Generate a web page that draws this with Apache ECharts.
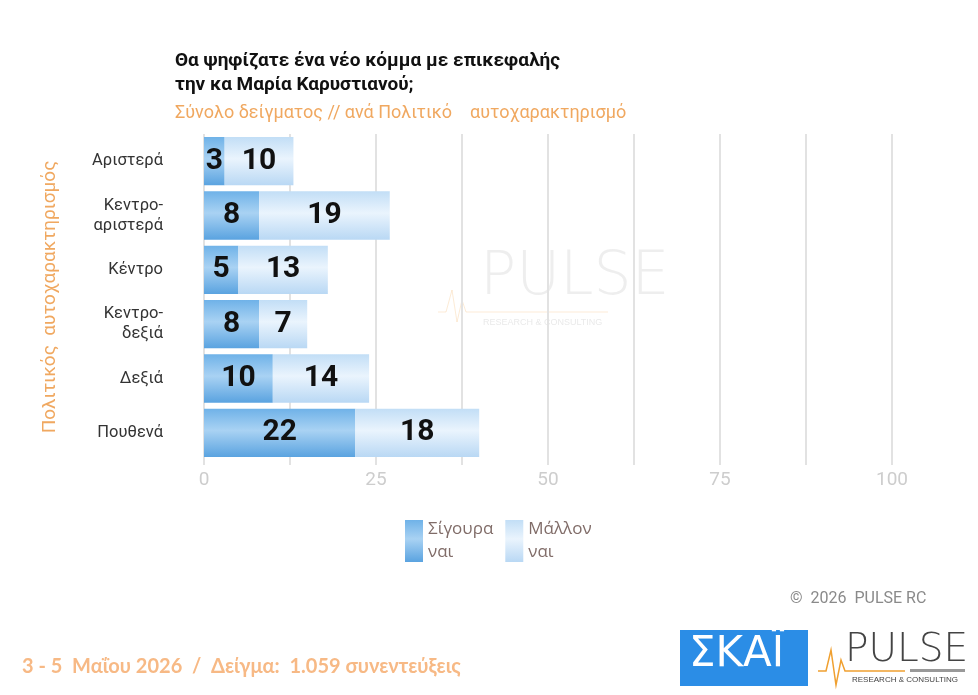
<!DOCTYPE html>
<html><head><meta charset="utf-8">
<script src="https://cdn.jsdelivr.net/npm/echarts@6/dist/echarts.min.js"></script>
<style>html,body{margin:0;padding:0;background:#fff}#c{width:978px;height:695px}</style>
</head><body><div id="c"></div>
<script>
const categories = ['Αριστερά', 'Κεντρο-\nαριστερά', 'Κέντρο', 'Κεντρο-\nδεξιά', 'Δεξιά', 'Πουθενά'];
const seriesNames = ['Σίγουρα ναι', 'Μάλλον ναι'];
const sureYes = [3, 8, 5, 8, 10, 22];
const ratherYes = [10, 19, 13, 7, 14, 18];
const xTicks = [0, 25, 50, 75, 100];

const chart = echarts.init(document.getElementById('c'), null, {renderer: 'canvas'});
const grad = (a, b, c) => new echarts.graphic.LinearGradient(0, 0, 0, 1, [
  {offset: 0, color: a}, {offset: 0.45, color: b}, {offset: 1, color: c}]);
const darkGrad = grad('#6fb2e8', '#a9d2f3', '#5aa3e0');
const lightGrad = grad('#c2def6', '#eaf4fd', '#b9d8f4');
const orange = '#f0a860';
const font = 'Roboto';

chart.setOption({
  animation: false,
  textStyle: {fontFamily: font},
  title: [{
    text: 'Θα ψηφίζατε ένα νέο κόμμα με επικεφαλής\nτην κα Μαρία Καρυστιανού;',
    left: 170, top: 44,
    textStyle: {fontSize: 19, fontWeight: 'bold', color: '#111', lineHeight: 24, fontFamily: font}
  }, {
    text: 'Σύνολο δείγματος // ανά Πολιτικό    αυτοχαρακτηρισμό',
    left: 170, top: 99,
    textStyle: {fontSize: 18, fontWeight: 'normal', color: orange, fontFamily: font}
  }],
  legend: {
    left: 400, top: 513,
    itemWidth: 18, itemHeight: 42, itemGap: 12,
    icon: 'rect',
    data: seriesNames,
    formatter: n => n.replace(' ', '\n'),
    textStyle: {fontSize: 17, color: '#806c68', lineHeight: 23, fontFamily: 'Open Sans'}
  },
  grid: {left: 204, right: 86, top: 134, bottom: 235},
  xAxis: {
    type: 'value', min: 0, max: 100, interval: 12.5,
    axisLine: {show: false},
    axisTick: {show: true, length: 5, lineStyle: {color: '#e2e2e2', width: 2}},
    splitLine: {show: true, lineStyle: {color: '#e2e2e2', width: 2}},
    axisLabel: {
      margin: 11, fontSize: 19, color: '#cdcdcd',
      formatter: v => xTicks.includes(v) ? String(v) : ''
    }
  },
  yAxis: {
    type: 'category', data: categories, inverse: true,
    axisLine: {show: false}, axisTick: {show: false},
    name: 'Πολιτικός  αυτοχαρακτηρισμός',
    nameLocation: 'middle', nameRotate: 90, nameGap: 144,
    nameTextStyle: {fontSize: 19, color: orange, fontFamily: font},
    axisLabel: {margin: 41, fontSize: 16.5, color: '#333', lineHeight: 20, align: 'right'}
  },
  series: [{
    name: seriesNames[0], type: 'bar', stack: 's', data: sureYes,
    barCategoryGap: '11%',
    itemStyle: {color: darkGrad},
    label: {show: true, position: 'inside', fontSize: 30, fontWeight: 'bold', color: '#111', fontFamily: font}
  }, {
    name: seriesNames[1], type: 'bar', stack: 's', data: ratherYes,
    barCategoryGap: '11%',
    itemStyle: {color: lightGrad},
    label: {show: true, position: 'inside', fontSize: 30, fontWeight: 'bold', color: '#111', fontFamily: font}
  }],
  graphic: [
    // watermark
    {type: 'text', left: 480, top: 248, silent: true, z: -1,
      style: {text: 'PULSE', fontSize: 60, fontFamily: 'DejaVu Sans', fontWeight: 200, fill: 'rgba(200,200,200,0.3)'}},
    {type: 'text', left: 483, top: 318, silent: true, z: -1,
      style: {text: 'RESEARCH & CONSULTING', fontSize: 9, fill: 'rgba(200,200,200,0.4)'}},
    {type: 'polyline', silent: true, z: -1,
      shape: {points: [[438, 312], [446, 312], [452, 290], [457, 322], [462, 300], [466, 312], [608, 312]]},
      style: {stroke: 'rgba(245,190,120,0.3)', lineWidth: 1, fill: null}},
    // footer
    {type: 'text', left: 790, top: 591,
      style: {text: '©  2026  PULSE RC', fontSize: 16, fill: '#8a8a8a', fontFamily: 'Roboto'}},
    {type: 'text', left: 22, top: 657,
      style: {text: '3 - 5  Μαΐου 2026  /  Δείγμα:  1.059 συνεντεύξεις', fontSize: 20, fontWeight: 'bold', fill: '#f7b985', fontFamily: 'Lato'}},
    // SKAI logo
    {type: 'rect', shape: {x: 680, y: 630, width: 128, height: 56}, style: {fill: '#2b8de6'}},
    {type: 'text', left: 689, top: 634,
      style: {text: 'ΣΚΑΪ', fontSize: 42, fill: '#fff', fontFamily: 'DejaVu Sans'}},
    // PULSE logo
    {type: 'text', left: 845, top: 631,
      style: {text: 'PULSE', fontSize: 39, fill: '#444', fontFamily: 'DejaVu Sans', fontWeight: 200}},
    {type: 'polyline',
      shape: {points: [[818, 671], [826, 671], [831, 650], [836, 685], [841, 660], [845, 671], [905, 671]]},
      style: {stroke: '#f0a030', lineWidth: 1.5, fill: null}},
    {type: 'rect', shape: {x: 910, y: 669, width: 55, height: 3}, style: {fill: '#999'}},
    {type: 'text', left: 852, top: 676,
      style: {text: 'RESEARCH & CONSULTING', fontSize: 8, fill: '#444'}}
  ]
});
</script></body></html>
